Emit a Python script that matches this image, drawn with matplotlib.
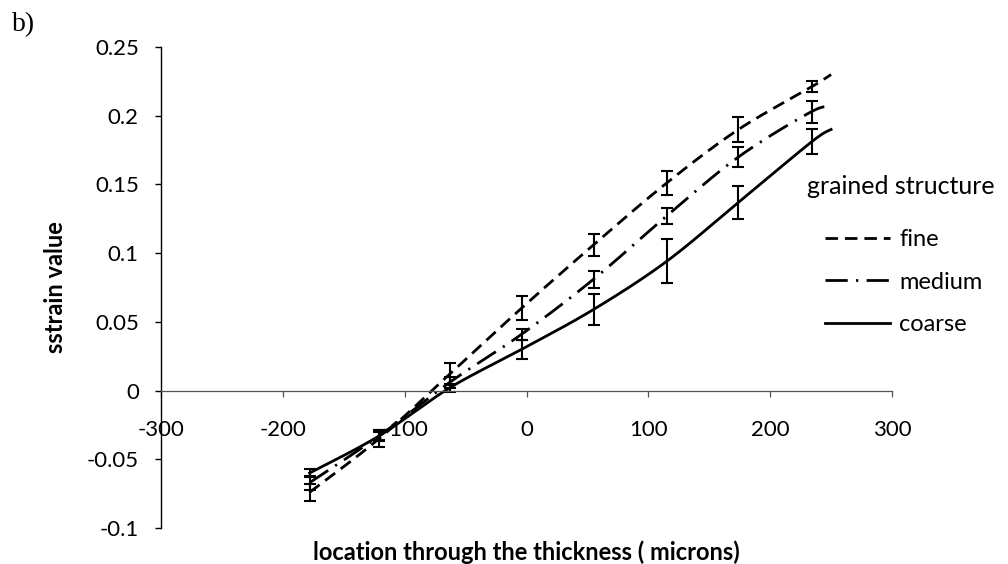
import matplotlib
matplotlib.use("Agg")
import matplotlib.pyplot as plt
import numpy as np
from matplotlib.ticker import FuncFormatter

plt.rcParams['font.family'] = ['Lato', 'DejaVu Sans']

# location through the thickness (microns)
x = [-178, -121, -63, -4, 55, 115, 174, 234, 250]
# strain values per grain structure (last point has no error bar)
fine = [-0.074, -0.035, 0.012, 0.060, 0.106, 0.151, 0.190, 0.221, 0.230]
medium = [-0.067, -0.033, 0.006, 0.041, 0.081, 0.127, 0.170, 0.203, 0.206]
coarse = [-0.060, -0.033, 0.002, 0.030, 0.059, 0.094, 0.137, 0.181, 0.190]

fine_err = [0.006, 0.006, 0.008, 0.009, 0.008, 0.009, 0.009, 0.004]
medium_err = [0.005, 0.004, 0.004, 0.004, 0.006, 0.006, 0.007, 0.008]
coarse_err = [0.003, 0.003, 0.003, 0.007, 0.011, 0.016, 0.012, 0.009]

labels = ['fine', 'medium', 'coarse']
styles = [(0, (4.5, 2.5)), (0, (8, 3, 0.8, 3)), '-']


def smooth(xs, ys, n=30):
    # excel-like smoothed line (bezier through the points)
    px = np.array(xs, float)
    py = np.array(ys, float)
    ex = np.concatenate([[px[0]], px, [px[-1]]])
    ey = np.concatenate([[py[0]], py, [py[-1]]])
    outx, outy = [], []
    t = np.linspace(0, 1, n)
    for i in range(len(px) - 1):
        p0 = np.array([ex[i + 1], ey[i + 1]])
        p3 = np.array([ex[i + 2], ey[i + 2]])
        c1 = p0 + (p3 - np.array([ex[i], ey[i]])) / 6
        c2 = p3 - (np.array([ex[i + 3], ey[i + 3]]) - p0) / 6
        b = ((1 - t) ** 3)[:, None] * p0 + (3 * (1 - t) ** 2 * t)[:, None] * c1 \
            + (3 * (1 - t) * t ** 2)[:, None] * c2 + (t ** 3)[:, None] * p3
        outx.extend(b[:, 0])
        outy.extend(b[:, 1])
    return outx, outy


fig = plt.figure(figsize=(10.08, 5.64), dpi=100)
ax = fig.add_axes([161 / 1008, 1 - 528 / 564, (892 - 161) / 1008, (528 - 47) / 564])

for ys, errs, lab, ls in zip([fine, medium, coarse], [fine_err, medium_err, coarse_err], labels, styles):
    sx, sy = smooth(x, ys)
    ax.plot(sx, sy, color='black', linewidth=2, linestyle=ls, label=lab)
    ax.errorbar(x[:len(errs)], ys[:len(errs)], yerr=errs, fmt='none', ecolor='black',
                elinewidth=1.5, capsize=4, capthick=1.5)

ax.set_xlim(-300, 300)
ax.set_ylim(-0.1, 0.25)
ax.set_xticks(range(-300, 301, 100))
ax.set_yticks([-0.1, -0.05, 0, 0.05, 0.1, 0.15, 0.2, 0.25])
ax.yaxis.set_major_formatter(FuncFormatter(lambda v, p: ('%g' % round(v, 3))))
ax.xaxis.set_major_formatter(FuncFormatter(lambda v, p: '%d' % v))

ax.spines['top'].set_visible(False)
ax.spines['right'].set_visible(False)
ax.spines['bottom'].set_position(('data', 0))
ax.spines['bottom'].set_color('#555555')
ax.spines['bottom'].set_linewidth(0.9)
ax.spines['left'].set_linewidth(1.0)
ax.tick_params(axis='x', direction='out', length=4, width=0.9, color='#555555', pad=17, labelsize=16)
ax.tick_params(axis='y', direction='out', length=4, width=1.0, pad=12, labelsize=16)

ax.set_xlabel('location through the thickness ( microns)', fontsize=17, fontweight='bold')
ax.xaxis.label.set_va('center')
ax.xaxis.set_label_coords(0.5, -0.05)
ax.set_ylabel('sstrain value', fontsize=17, fontweight='bold')
ax.yaxis.set_label_coords(-0.1286, 0.5)

fig.text(807 / 1008, 1 - 187 / 564, 'grained structure', fontsize=18, va='center')
ax.legend(loc='upper left', bbox_to_anchor=(825 / 1008, 1 - 229 / 564),
          bbox_transform=fig.transFigure, frameon=False, fontsize=17,
          handlelength=2.75, handletextpad=0.4, labelspacing=0.92,
          borderpad=0, borderaxespad=0)

fig.text(12 / 1008, 1 - 25 / 564, 'b)', fontsize=20, va='center', family='Liberation Serif')

fig.savefig('out.png', dpi=100)
